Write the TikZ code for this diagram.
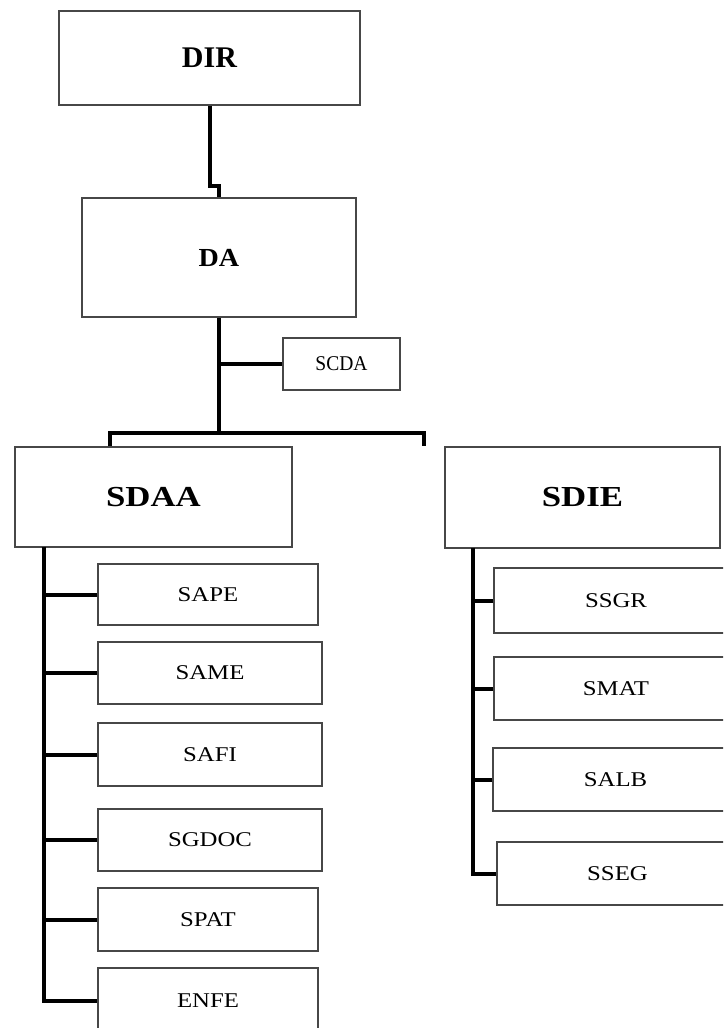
\documentclass[tikz,border=0pt]{standalone}
\usepackage{fontspec}
\usepackage{graphicx}
\setmainfont{Liberation Serif}
\begin{document}
\begin{tikzpicture}[x=1pt,y=-1pt,
  box/.style={draw=black!72, line width=1.4pt, fill=white, inner sep=0pt, align=center},
  big/.style={box, font=\fontsize{29}{30}\selectfont\bfseries},
  small/.style={box, font=\fontsize{21}{22}\selectfont},
  conn/.style={line width=4pt, black}]
\useasboundingbox (0,0) rectangle (723,1028);
\clip (0,0) rectangle (723,1028);
\fill[white] (0,0) rectangle (723,1028);
% top levels
\node[big, minimum width=301pt, minimum height=94pt] (DIR) at (209.5,58) {\raisebox{-4pt}{\fontsize{30}{31}\selectfont DIR}};
\node[big, minimum width=274pt, minimum height=119pt] (DA) at (219,257.5) {\raisebox{-3pt}{\scalebox{1.08}[1]{\fontsize{26}{27}\selectfont DA}}};
\node[small, minimum width=117pt, minimum height=52pt] (SCDA) at (341.5,364) {\scalebox{0.93}[1]{SCDA}};
\node[big, minimum width=277pt, minimum height=100pt] (SDAA) at (153.5,497) {\scalebox{1.2}[1]{SDAA}};
\node[big, minimum width=275pt, minimum height=101pt] (SDIE) at (582.5,497.5) {\scalebox{1.2}[1]{SDIE}};
% left column
\node[small, minimum width=220pt, minimum height=61pt] (SAPE) at (208,594.5) {\raisebox{-2pt}{\scalebox{1.18}[1]{SAPE}}};
\node[small, minimum width=224pt, minimum height=62pt] (SAME) at (210,673) {\scalebox{1.18}[1]{SAME}};
\node[small, minimum width=224pt, minimum height=63pt] (SAFI) at (210,754.5) {\scalebox{1.18}[1]{SAFI}};
\node[small, minimum width=224pt, minimum height=62pt] (SGDOC) at (210,840) {\scalebox{1.18}[1]{SGDOC}};
\node[small, minimum width=220pt, minimum height=63pt] (SPAT) at (208,919.5) {\scalebox{1.18}[1]{SPAT}};
\node[small, minimum width=220pt, minimum height=66pt] (ENFE) at (208,1001) {\scalebox{1.18}[1]{ENFE}};
% right column
\node[small, minimum width=244pt, minimum height=65pt] (SSGR) at (616,600.5) {\raisebox{-14pt}{\scalebox{1.18}[1]{SSGR}}};
\node[small, minimum width=244pt, minimum height=63pt] (SMAT) at (616,688.5) {\raisebox{-12pt}{\scalebox{1.18}[1]{SMAT}}};
\node[small, minimum width=245pt, minimum height=63pt] (SALB) at (615.5,779.5) {\raisebox{0pt}{\scalebox{1.18}[1]{SALB}}};
\node[small, minimum width=241pt, minimum height=63pt] (SSEG) at (617.5,873.5) {\raisebox{-2pt}{\scalebox{1.18}[1]{SSEG}}};
% connectors
\draw[conn] (DIR.south) -- ++(0,80) -| (DA.north);
\coordinate (bar) at (219,433);
\coordinate (barL) at (110,433);
\coordinate (barR) at (424,433);
\draw[conn] (DA.south) -- (bar);
\draw[conn] (SCDA.west) -- (SCDA.west -| DA.south);
\draw[conn] (barL |- SDAA.north) -- (barL) -- (barR) -- (barR |- SDIE.north);
\coordinate (tA) at (44,547);
\draw[conn] (tA) |- (ENFE.west);
\foreach \n in {SAPE,SAME,SAFI,SGDOC,SPAT}
  \draw[conn] (\n.west) -- (\n.west -| tA);
\coordinate (tB) at (473,548);
\draw[conn] (tB) |- (SSEG.west);
\foreach \n in {SSGR,SMAT,SALB}
  \draw[conn] (\n.west) -- (\n.west -| tB);
\end{tikzpicture}
\end{document}
